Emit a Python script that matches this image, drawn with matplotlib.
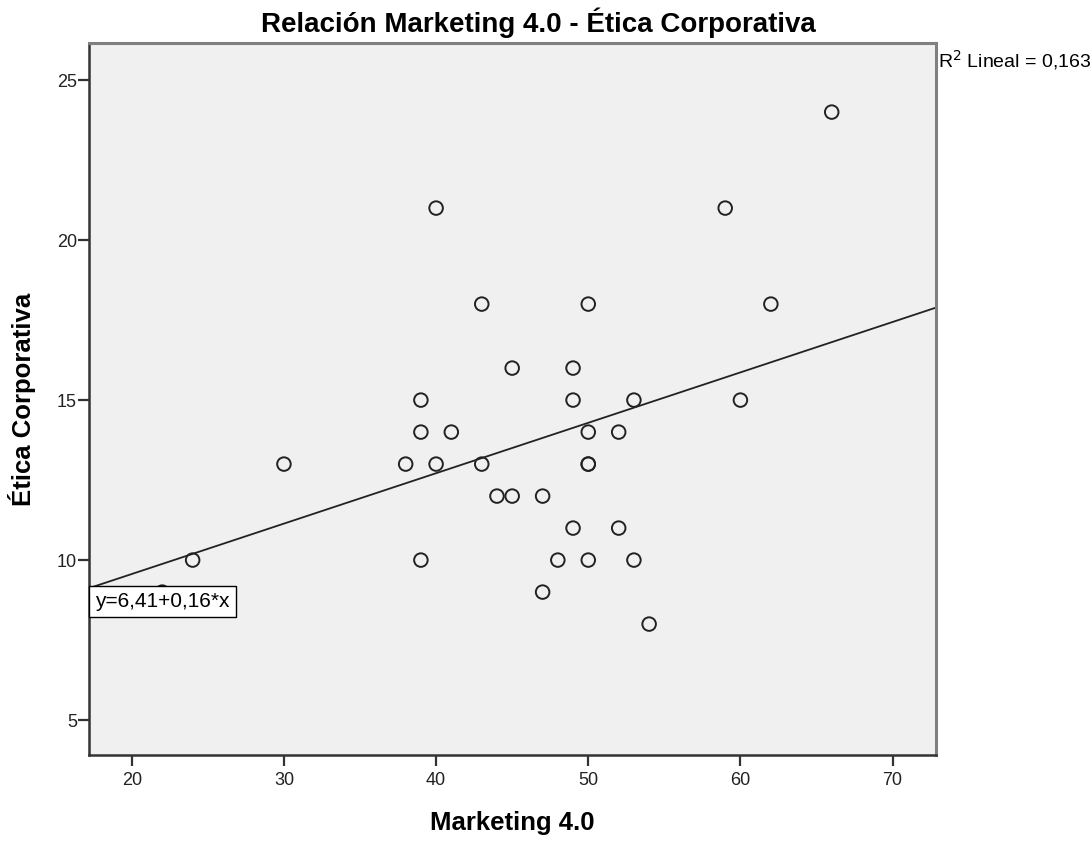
import numpy as np
import matplotlib
matplotlib.use("Agg")
import matplotlib.pyplot as plt

plt.rcParams['font.family'] = ['Liberation Sans', 'DejaVu Sans']

# Puntuaciones por encuestado
marketing = [66, 40, 59, 43, 50, 62, 45, 49, 39, 49, 53, 60, 39, 41, 50, 52,
             30, 38, 40, 43, 50, 50, 44, 45, 47, 49, 52, 24, 39, 48, 50, 53,
             47, 54, 22]
etica = [24, 21, 21, 18, 18, 18, 16, 16, 15, 15, 15, 15, 14, 14, 14, 14,
         13, 13, 13, 13, 13, 13, 12, 12, 12, 11, 11, 10, 10, 10, 10, 10,
         9, 8, 9]

x_ticks = [20, 30, 40, 50, 60, 70]
y_ticks = [5, 10, 15, 20, 25]

x = np.array(marketing, dtype=float)
y = np.array(etica, dtype=float)
slope, intercept = np.polyfit(x, y, 1)
r2 = np.corrcoef(x, y)[0, 1] ** 2

fig = plt.figure(figsize=(10.92, 8.41), dpi=100)
ax = fig.add_axes([0.0818, 0.1023, 0.7753, 0.8466])
ax.set_facecolor('#f0f0f0')

xmin, xmax = 17.21, 72.85
ymin, ymax = 3.91, 26.16
ax.set_xlim(xmin, xmax)
ax.set_ylim(ymin, ymax)

ax.scatter(x, y, s=95, facecolors='none', edgecolors='#222222',
           linewidths=1.4, zorder=3)

xs = np.array([xmin, xmax])
ax.plot(xs, intercept + slope * xs, color='#222222', lw=1.3, zorder=2)

eq = f"y={intercept:.2f}+{slope:.2f}*x".replace('.', ',')
ax.text(xmin + 0.37, intercept + slope * xmin - 0.13, eq, ha='left', va='top',
        fontsize=15, color='black', zorder=4,
        bbox=dict(boxstyle='square,pad=0.3', facecolor='white',
                  edgecolor='black', linewidth=1.0))

fig.text(0.859, 0.929, f"R$^2$ Lineal = {r2:.3f}".replace('.', ','),
         ha='left', va='center', fontsize=14)

ax.set_xticks(x_ticks)
ax.set_yticks(y_ticks)
ax.tick_params(axis='both', direction='out', length=8, width=1.6,
               color='#333333', labelsize=13, labelcolor='#222222')
ax.tick_params(axis='x', pad=4)
ax.tick_params(axis='y', pad=1)

for side in ('left', 'bottom'):
    ax.spines[side].set_color('#333333')
    ax.spines[side].set_linewidth(1.8)
for side in ('right', 'top'):
    ax.spines[side].set_color('#808080')
    ax.spines[side].set_linewidth(2.2)

ax.set_xlabel('Marketing 4.0', fontsize=18.5, fontweight='bold', labelpad=16)
ax.set_ylabel('Ética Corporativa', fontsize=18.5, fontweight='bold', labelpad=15)
fig.text(0.493, 0.962, 'Relación Marketing 4.0 - Ética Corporativa',
         ha='center', va='baseline', fontsize=20, fontweight='bold')

fig.savefig('out.png', dpi=100, facecolor='white')
